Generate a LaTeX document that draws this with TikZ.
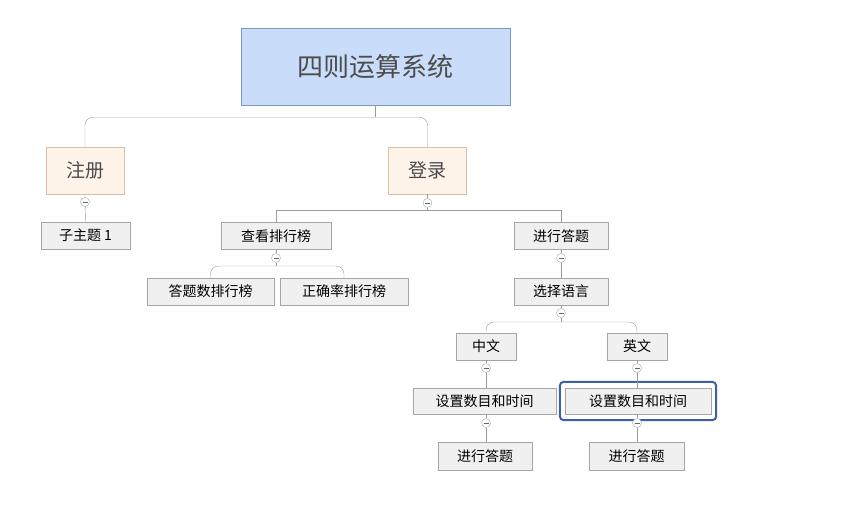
\documentclass[tikz,border=0pt]{standalone}
\usepackage{fontspec}
\setmainfont{Noto Sans CJK SC}
\definecolor{rootfill}{HTML}{C9DDFA}
\definecolor{rootline}{HTML}{7F98BD}
\definecolor{mainfill}{HTML}{FDF3E9}
\definecolor{mainline}{HTML}{D9BFA6}
\definecolor{subfill}{HTML}{F0F0F0}
\definecolor{subline}{HTML}{A6A6A6}
\definecolor{conline}{HTML}{9A9A9A}
\definecolor{hiline}{HTML}{3D5FA8}
\begin{document}
\begin{tikzpicture}[x=1pt,y=-1pt,
	rootbox/.style={draw=rootline, fill=rootfill, minimum width=269pt, minimum height=77pt, font=\fontsize{26}{30}\selectfont, text=black!70},
	mainbox/.style={draw=mainline, fill=mainfill, minimum width=78pt, minimum height=47pt, font=\fontsize{19}{22}\selectfont, text=black!70},
	subbox/.style={draw=subline, fill=subfill, minimum height=27pt, font=\fontsize{14}{17}\selectfont, inner xsep=6pt},
	fold/.style={circle, draw=subline, fill=white, inner sep=0pt, minimum size=9pt,
		path picture={\draw[black!60] ([xshift=-2.5pt]path picture bounding box.center) -- ([xshift=2.5pt]path picture bounding box.center);}},
	conn/.style={draw=conline, thin},
	roundconn/.style={conn, rounded corners=8pt}]
	\useasboundingbox (0,0) rectangle (853,514);
	
	\node [rootbox] (root) at (375.5,66.5) {四则运算系统};
	\node [mainbox] (reg) at (85,170.5) {注册};
	\node [mainbox] (login) at (427.5,170.5) {登录};
	\node [subbox, minimum width=89pt] (topic) at (85.5,235.5) {子主题 1};
	\node [subbox, minimum width=110pt] (rank) at (276,236) {查看排行榜};
	\node [subbox, minimum width=94pt] (ans) at (561,236) {进行答题};
	\node [subbox, minimum width=127pt] (rcount) at (210.5,291.5) {答题数排行榜};
	\node [subbox, minimum width=128pt] (rrate) at (344,291.5) {正确率排行榜};
	\node [subbox, minimum width=94pt] (lang) at (561,291.5) {选择语言};
	\node [subbox, minimum width=60pt] (zh) at (486,346.5) {中文};
	\node [subbox, minimum width=60pt] (en) at (637,346.5) {英文};
	\node [subbox, minimum width=143pt, minimum height=26pt] (setzh) at (484.5,401) {设置数目和时间};
	\node [subbox, minimum width=146pt, minimum height=26pt] (seten) at (638,401) {设置数目和时间};
	\draw [hiline, line width=2pt, rounded corners=4pt] ([xshift=-5pt,yshift=6pt]seten.north west) rectangle ([xshift=5pt,yshift=-6pt]seten.south east);
	\node [subbox, minimum width=94pt, minimum height=28pt] (anszh) at (485,456) {进行答题};
	\node [subbox, minimum width=95pt, minimum height=28pt] (ansen) at (636.5,456) {进行答题};
	
	% root
	\draw [conn] (root.south) -- ++(0,12) coordinate (rj);
	\draw [roundconn] (rj) -| (reg.north);
	\draw [roundconn] (rj) -| (login.north);
	% 注册
	\node [fold] (f1) at (85,202) {};
	\draw [conn] (reg.south) -- (f1) -- (topic.north);
	% 登录
	\node [fold] (f2) at (427.5,203) {};
	\draw [conn] (login.south) -- (f2) -- ++(0,7) coordinate (lj);
	\draw [conn] (lj) -| (rank.north);
	\draw [conn] (lj) -| (ans.north);
	% 排行榜
	\node [fold] (f3) at (276,258) {};
	\draw [conn] (rank.south) -- (f3) -- ++(0,8) coordinate (kj);
	\draw [roundconn] (kj) -| (rcount.north);
	\draw [roundconn] (kj) -| (rrate.north);
	% 答题
	\node [fold] (f4) at (561,258) {};
	\draw [conn] (ans.south) -- (f4) -- (lang.north);
	\node [fold] (f5) at (561,313) {};
	\draw [conn] (lang.south) -- (f5) -- ++(0,9) coordinate (gj);
	\draw [roundconn] (gj) -| (zh.north);
	\draw [roundconn] (gj) -| (en.north);
	\node [fold] (f6) at (486,368) {};
	\draw [conn] (zh.south) -- (f6) -- (setzh.north -| f6);
	\node [fold] (f7) at (637,368) {};
	\draw [conn] (en.south) -- (f7) -- (seten.north -| f7);
	\node [fold] (f8) at (486,423) {};
	\draw [conn] (setzh.south -| f8) -- (f8) -- (anszh.north -| f8);
	\node [fold] (f9) at (637,423) {};
	\draw [conn] (seten.south -| f9) -- (f9) -- (ansen.north -| f9);
\end{tikzpicture}
\end{document}
